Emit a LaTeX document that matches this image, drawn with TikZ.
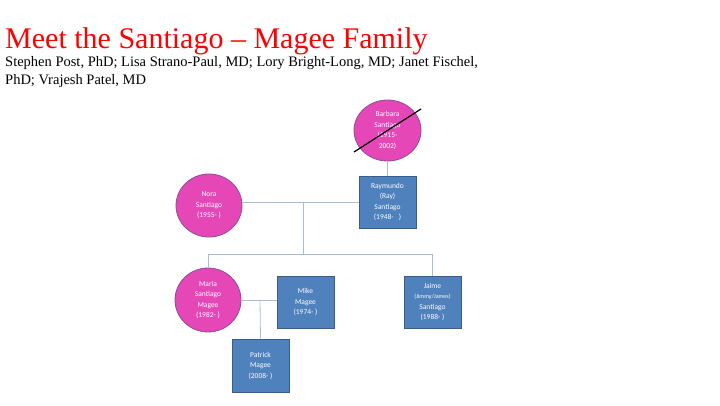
\documentclass[tikz,border=0pt]{standalone}
\usetikzlibrary{shapes.geometric,calc}
\usepackage{fontspec}
\setmainfont{Liberation Serif}
\newfontfamily\carl{Carlito}
\definecolor{pinkf}{HTML}{E548B6}
\definecolor{pinkd}{HTML}{8A4E9A}
\definecolor{bluef}{HTML}{4F81BD}
\definecolor{blued}{HTML}{385D8A}
\definecolor{linec}{HTML}{A9BED2}
\begin{document}
\begin{tikzpicture}[x=1pt,y=-1pt,
  fem/.style={ellipse,fill=pinkf,draw=pinkd,line width=0.8pt,inner sep=0pt,text=white,font=\carl\fontsize{7.5}{10.5}\selectfont,align=center},
  mal/.style={rectangle,fill=bluef,draw=blued,line width=0.8pt,inner sep=0pt,text=white,font=\carl\fontsize{7.5}{10.5}\selectfont,align=center,minimum width=57pt,minimum height=52pt},
  conn/.style={draw=linec,line width=0.8pt}]
\useasboundingbox (0,0) rectangle (720,405);
\node[anchor=base west,text=red,font=\fontsize{30}{32}\selectfont,inner sep=0pt] (title) at (5,48) {Meet the Santiago -- Magee Family};
\node[anchor=north west,font=\fontsize{14.5}{18}\selectfont,align=left,inner sep=0pt] (sub) at (5,56) {Stephen Post, PhD; Lisa Strano-Paul, MD; Lory Bright-Long, MD; Janet Fischel,\\PhD; Vrajesh Patel, MD};
\node[mal] (ray) at (387.5,202) {Raymundo\\(Ray)\\Santiago\\(1948-\ \ \ )};
\node[fem,minimum width=66pt,minimum height=63pt] (nora) at (209,205.5) {Nora\\Santiago\\(1955- )};
\node[mal] (mike) at (305.5,302) {Mike\\Magee\\(1974- )};
\node[mal] (jaime) at (432.5,302) {Jaime\\{\fontsize{6}{10.5}\selectfont(Jimmy/James)}\\Santiago\\(1988- )};
\node[mal,minimum height=53pt] (pat) at (260.5,365.5) {Patrick\\Magee\\(2008- )};
\node[fem,minimum width=66pt,minimum height=64pt] (maria) at (208,300) {Maria\\Santiago\\Magee\\(1982- )};
\node[fem,minimum width=67pt,minimum height=61pt] (barb) at (387.5,130.5) {Barbara\\Santiago\\(1915-\\2002)};
\draw[conn] (barb) -- (ray);
\draw[conn] (nora.east |- 0,202) -- (ray.west |- 0,202);
\coordinate (m1) at (303,202);
\coordinate (m2) at (303,254);
\draw[conn] (m1) -- (m2);
\draw[conn] (maria.north) -- (maria.north |- m2) -- (jaime.north |- m2) -- (jaime.north);
\draw[conn] (maria.east) -- (mike.west |- maria.east);
\coordinate (p1) at (260,300);
\draw[conn] (p1) -- (pat.north);
\draw[line width=1.2pt] ($(barb.center)+(-33.5,21.5)$) -- ($(barb.center)+(33.5,-21.5)$);
\end{tikzpicture}
\end{document}
